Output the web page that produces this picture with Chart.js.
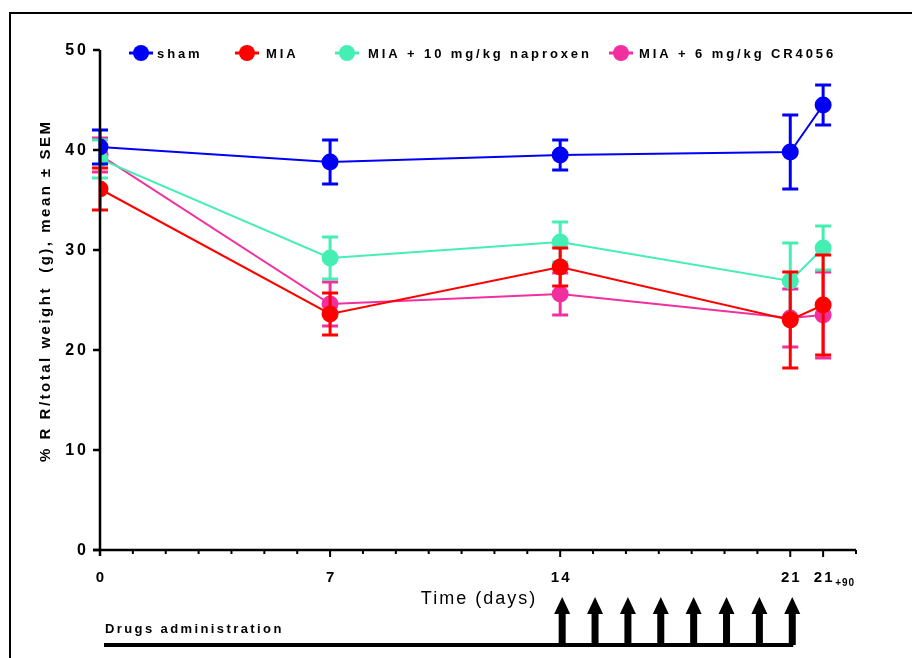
<!DOCTYPE html>
<html><head><meta charset="utf-8">
<script src="https://cdn.jsdelivr.net/npm/chart.js@4.4.1/dist/chart.umd.min.js"></script>
<style>html,body{margin:0;padding:0;background:#fff}#wrap{width:912px;height:658px;position:relative}</style>
</head><body><div id="wrap"><canvas id="c" width="912" height="658"></canvas></div>
<script>
const days = [0, 7, 14, 21, 22];
const xTickValues = [0, 7, 14, 21, 22];
const xTickLabels = ['0', '7', '14', '21', '21'];
const yTickValues = [0, 10, 20, 30, 40, 50];
const seriesNames = ['sham', 'MIA', 'MIA + 10 mg/kg naproxen', 'MIA + 6 mg/kg CR4056'];
const shamMean = [40.3, 38.8, 39.5, 39.8, 44.5];
const shamSem  = [1.7, 2.2, 1.5, 3.7, 2.0];
const miaMean  = [36.1, 23.6, 28.3, 23.0, 24.5];
const miaSem   = [2.1, 2.1, 1.9, 4.8, 5.0];
const napMean  = [39.1, 29.2, 30.8, 26.9, 30.2];
const napSem   = [1.9, 2.1, 2.0, 3.8, 2.2];
const crMean   = [39.5, 24.6, 25.6, 23.2, 23.5];
const crSem    = [1.7, 2.2, 2.1, 2.9, 4.3];
const arrowDays = [14, 15, 16, 17, 18, 19, 20, 21];
const colors = ['#0000f4', '#ff0000', '#45eeb2', '#f22f9f'];

const means = [shamMean, miaMean, napMean, crMean];
const sems = [shamSem, miaSem, napSem, crSem];

function pts(m){ return days.map((d,i)=>({x:d, y:m[i]})); }

const FONT = '"Liberation Sans", Arial, sans-serif';

function txt(ctx, s, x, y, font, spacing, align, base){
  ctx.save();
  ctx.font = font;
  ctx.letterSpacing = spacing + 'px';
  ctx.textAlign = align || 'left';
  ctx.textBaseline = base || 'alphabetic';
  ctx.fillStyle = '#000';
  let dx = 0;
  if (align === 'center') dx = spacing/2;
  if (align === 'right') dx = spacing;
  ctx.fillText(s, x + dx, y);
  ctx.restore();
}

const errorBars = {
  id: 'errorBars',
  afterDatasetDraw(chart, args) {
    const ctx = chart.ctx, xs = chart.scales.x, ys = chart.scales.y;
    const i = args.index;
    ctx.save();
    ctx.strokeStyle = colors[i];
    ctx.lineWidth = 3;
    days.forEach((d, k) => {
      const x = xs.getPixelForValue(d);
      const yt = ys.getPixelForValue(means[i][k] + sems[i][k]);
      const yb = ys.getPixelForValue(means[i][k] - sems[i][k]);
      ctx.beginPath();
      ctx.moveTo(x, yt); ctx.lineTo(x, yb);
      ctx.moveTo(x - 8, yt); ctx.lineTo(x + 8, yt);
      ctx.moveTo(x - 8, yb); ctx.lineTo(x + 8, yb);
      ctx.stroke();
    });
    ctx.restore();
  }
};

const decor = {
  id: 'decor',
  beforeDraw(chart) {
    const ctx = chart.ctx;
    ctx.save();
    ctx.fillStyle = '#fff';
    ctx.fillRect(0, 0, chart.width, chart.height);
    ctx.strokeStyle = '#000'; ctx.lineWidth = 2;
    ctx.beginPath(); ctx.moveTo(10, 660); ctx.lineTo(10, 13); ctx.lineTo(915, 13); ctx.stroke();
    ctx.restore();
  },
  afterDraw(chart) {
    const ctx = chart.ctx, xs = chart.scales.x, ys = chart.scales.y;
    const x0 = xs.getPixelForValue(0), y0 = ys.getPixelForValue(0);
    const xEnd = xs.right, yTop = ys.getPixelForValue(50);
    ctx.save();
    ctx.strokeStyle = '#000'; ctx.lineWidth = 2.5;
    ctx.beginPath(); ctx.moveTo(x0, yTop); ctx.lineTo(x0, y0 + 6); ctx.stroke();
    yTickValues.forEach(v => {
      const y = ys.getPixelForValue(v);
      ctx.beginPath(); ctx.moveTo(x0 - 7, y); ctx.lineTo(x0, y); ctx.stroke();
      txt(ctx, String(v), x0 - 14, y + 1, 'bold 16px ' + FONT, 3, 'right', 'middle');
    });
    ctx.beginPath(); ctx.moveTo(x0 - 7, y0); ctx.lineTo(xEnd, y0); ctx.stroke();
    ctx.lineWidth = 2;
    for (let d = 1; d <= 23; d++) {
      const x = xs.getPixelForValue(d);
      const major = xTickValues.includes(d);
      ctx.beginPath(); ctx.moveTo(x, y0); ctx.lineTo(x, y0 + (major ? 7 : 4)); ctx.stroke();
    }
    xTickValues.forEach((v, k) => {
      const x = xs.getPixelForValue(v);
      txt(ctx, xTickLabels[k], x, 582, 'bold 15px ' + FONT, 2, 'center');
    });
    const x22 = xs.getPixelForValue(22);
    txt(ctx, '+90', x22 + 12, 586, 'bold 10px ' + FONT, 1, 'left');
    txt(ctx, 'Time (days)', 478, 604, '18px ' + FONT, 2, 'center');
    ctx.save();
    ctx.translate(46, 292);
    ctx.rotate(-Math.PI / 2);
    txt(ctx, '% R R/total weight  (g), mean ± SEM', 0, 0, 'bold 15px ' + FONT, 2.5, 'center', 'middle');
    ctx.restore();
    txt(ctx, 'Drugs administration', 105, 633, 'bold 13px ' + FONT, 2.4, 'left');
    const xa = xs.getPixelForValue(21);
    ctx.lineWidth = 4;
    ctx.beginPath(); ctx.moveTo(104, 645); ctx.lineTo(xa + 3, 645); ctx.stroke();
    ctx.fillStyle = '#000';
    arrowDays.forEach(d => {
      const x = xs.getPixelForValue(d) + 2;
      ctx.fillRect(x - 3.5, 612, 7, 33);
      ctx.beginPath(); ctx.moveTo(x - 8, 614); ctx.lineTo(x, 597); ctx.lineTo(x + 8, 614); ctx.closePath(); ctx.fill();
    });
    const lx = [141, 247, 347, 621], tx = [157, 266, 368, 639];
    seriesNames.forEach((n, i) => {
      ctx.strokeStyle = colors[i]; ctx.fillStyle = colors[i]; ctx.lineWidth = 3;
      ctx.beginPath(); ctx.moveTo(lx[i] - 12, 53); ctx.lineTo(lx[i] + 12, 53); ctx.stroke();
      ctx.beginPath(); ctx.arc(lx[i], 53, 8, 0, Math.PI * 2); ctx.fill();
      txt(ctx, n, tx[i], 54, 'bold 13px ' + FONT, 2.9, 'left', 'middle');
    });
    ctx.restore();
  }
};

new Chart(document.getElementById('c'), {
  type: 'line',
  data: {
    datasets: seriesNames.map((n, i) => ({
      label: n,
      data: pts(means[i]),
      borderColor: colors[i],
      backgroundColor: colors[i],
      pointBackgroundColor: colors[i],
      pointBorderWidth: 0,
      pointRadius: 8.5,
      borderWidth: 2,
      tension: 0
    }))
  },
  options: {
    responsive: false,
    animation: false,
    devicePixelRatio: 1,
    layout: { padding: { left: 100, right: 56, top: 50, bottom: 108 } },
    plugins: { legend: { display: false }, tooltip: { enabled: false } },
    scales: {
      x: { type: 'linear', min: 0, max: 23, display: false },
      y: { type: 'linear', min: 0, max: 50, display: false }
    }
  },
  plugins: [decor, errorBars]
});
</script>
</body></html>
